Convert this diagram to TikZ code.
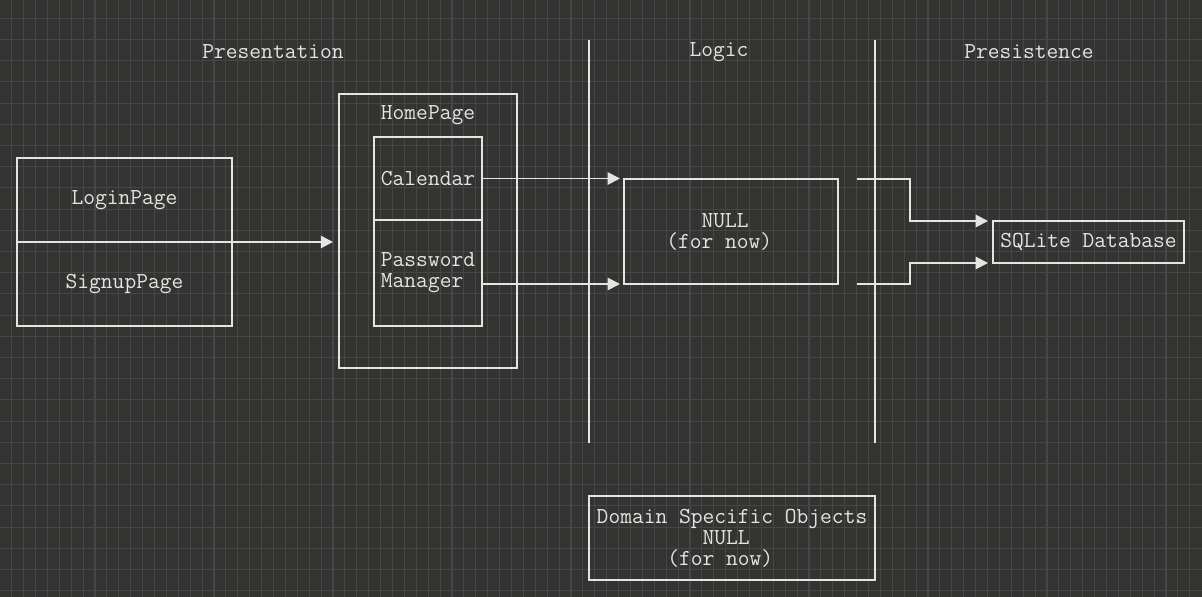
\documentclass[tikz,border=0pt]{standalone}
\definecolor{boardbg}{RGB}{51,52,50}
\definecolor{boardgrid}{RGB}{70,70,70}
\definecolor{chalk}{RGB}{228,228,226}
\usetikzlibrary{arrows.meta, positioning}

\begin{document}
\begin{tikzpicture}[x=0.02cm, y=-0.02cm,
      box/.style={draw=chalk, line width=1.1pt, outer sep=0pt, inner sep=0pt,
          text=chalk, font=\ttfamily\fontsize{13}{11.95}\selectfont, align=center},
      txt/.style={text=chalk, font=\ttfamily\fontsize{13}{11.95}\selectfont, align=center, inner sep=0pt},
      arr/.style={-{Triangle[length=7pt, width=7pt]}, chalk, line width=1.1pt},
      wire/.style={chalk, line width=1.1pt}
    ]
    % board background and grid
    \fill[boardbg] (0,0) rectangle (1202,597);
    \useasboundingbox (0,0) rectangle (1202,597);
    \foreach \i in {1,...,100} \draw[boardgrid, line width=0.6pt] (\i*11.9-0.2,0) -- ++(0,597);
    \foreach \j in {1,...,28} \draw[boardgrid, line width=0.6pt] (0,\j*21.2-2.9) -- ++(1202,0);

    % layer titles and separators
    \node[txt] (tpres)  at (273,52)  {Presentation};
    \node[txt] (tlogic) at (719,52)  {Logic};
    \node[txt] (tpers)  at (1029,52) {Presistence};
    \draw[wire] (589,40) -- (589,443);
    \draw[wire] (875,40) -- (875,443);

    % presentation
    \node[box, minimum width=4.3cm, minimum height=1.68cm] (loginpg) at (124.5,200) {LoginPage};
    \node[box, minimum width=4.3cm, minimum height=1.68cm, below=0pt of loginpg] (signuppg) {SignupPage};
    \node[box, minimum width=3.56cm, minimum height=5.48cm] (home) at (428,231) {};
    \node[txt] (hometitle) at (428,115) {HomePage};
    \node[box, minimum width=2.16cm, minimum height=1.66cm] (calendar) at (428,178.5) {Calendar};
    \node[box, minimum width=2.16cm, minimum height=2.12cm, below=0pt of calendar, align=left] (pwmgr) {Password\\Manager};

    % logic and persistence
    \node[box, minimum width=4.28cm, minimum height=2.1cm] (nullbox) at (731,231.5)
        {NULL\phantom{x}\\(for now)\phantom{xx}};
    \node[box, minimum width=3.82cm, minimum height=0.84cm] (sqlite) at (1088.5,242) {SQLite Database};
    \node[box, minimum width=5.72cm, minimum height=1.68cm] (domain) at (732,538)
        {Domain Specific Objects\\NULL\phantom{x}\\(for now)\phantom{xx}};

    \draw[arr, shorten >=3.4pt] (loginpg.south east) -- (loginpg.south east -| home.west);
    \draw[arr, shorten >=2.3pt] (calendar.east) -- (calendar.east -| nullbox.west);
    \draw[arr, shorten >=2.3pt] (pwmgr.east |- nullbox.south west) -- (nullbox.south west);
    \draw[arr, shorten >=2.85pt] ([xshift=0.38cm]nullbox.north east) -- ++(53,0) |- (sqlite.north west);
    \draw[arr, shorten >=2.85pt] ([xshift=0.38cm]nullbox.south east) -- ++(53,0) |- (sqlite.south west);
  \end{tikzpicture}
\end{document}
